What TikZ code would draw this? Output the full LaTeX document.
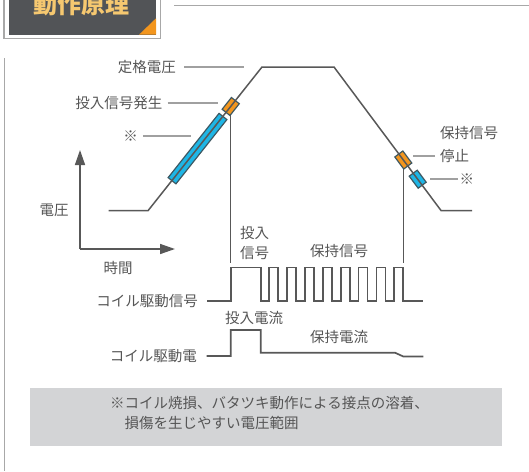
\documentclass[tikz,border=0pt]{standalone}
\usepackage{fontspec}
\setmainfont{Noto Sans CJK JP}
\usetikzlibrary{arrows.meta}
\definecolor{ln}{RGB}{88,88,88}
\definecolor{ld}{RGB}{160,160,160}
\definecolor{tx}{RGB}{85,85,85}
\definecolor{bluef}{RGB}{30,182,230}
\definecolor{orf}{RGB}{243,150,30}
\definecolor{olc}{RGB}{62,88,98}
\definecolor{gbox}{RGB}{211,212,214}
\definecolor{hdr}{RGB}{82,84,87}
\definecolor{hdrtx}{RGB}{246,200,112}
\definecolor{frame}{RGB}{168,168,168}
\begin{document}
\begin{tikzpicture}[x=1pt,y=-1pt,
  lbl/.style={text=tx, font=\fontsize{14.5}{20}\selectfont, inner sep=0pt},
  lead/.style={draw=ld, line width=1.3pt},
  curve/.style={draw=ln, line width=1.5pt},
  sig/.style={draw=ln, line width=1.7pt},
  axis/.style={draw=ln, line width=1.5pt, -{Triangle[length=15pt,width=10pt]}},
  blk/.style={draw=olc, line width=1.2pt, inner sep=0pt, minimum height=10pt},
]
\path[use as bounding box] (0,0) rectangle (529,471);
\clip (0,0) rectangle (529,471);

% header
\fill[hdr] (9,-10) rectangle (156,34.7);
\draw[frame, line width=1.4pt] (4,-10) rectangle (160.3,38.3);
\fill[orf] (139,34.7) -- (156,34.7) -- (156,18.3) -- cycle;
\node[font=\fontsize{24}{24}\selectfont\bfseries, text=hdrtx, inner sep=0pt] (title) at (81.5,5) {動作原理};
\draw[frame, line width=1.5pt] (174,5.5) -- (529,5.5);
\draw[frame, line width=1.5pt] (4.7,58.3) -- (4.7,471);

% voltage curve coordinates
\coordinate (v0) at (108.5,210.7);
\coordinate (v1) at (148,210.7);
\coordinate (v2) at (262,67);
\coordinate (v3) at (334,67);
\coordinate (v4) at (441,210.5);
\coordinate (v5) at (472,210.5);

% vertical markers
\draw[curve] (230.7,106.5) coordinate (oLc) -- (230.7,263) coordinate (oLd);
\draw[curve] (403.3,160) coordinate (oRc) -- (403.3,263) coordinate (oRd);

% blocks
\node[blk, fill=bluef, minimum width=82pt, rotate=51.6] (bL) at (197.5,148.6) {};
\node[blk, fill=orf, minimum width=15pt, rotate=51.6] (oL) at (oLc) {};
\node[blk, fill=orf, minimum width=15pt, rotate=-53.3] (oR) at (oRc) {};
\node[blk, fill=bluef, minimum width=15pt, rotate=-53.3] (bR) at (417.7,179.2) {};

\draw[curve] (v0) -- (v1) -- (v2) -- (v3) -- (v4) -- (v5);

% labels top
\node[lbl, anchor=east] (rated) at (176,67) {定格電圧};
\draw[lead] ([xshift=8pt]rated.east) -- ([xshift=68pt]rated.east);
\node[lbl, anchor=east] (inj) at (162.5,103) {投入信号発生};
\draw[lead] ([xshift=5pt]inj.east) -- ([xshift=55pt]inj.east);
\node[lbl] (star1) at (130.5,136) {※};
\draw[lead] ([xshift=5pt]star1.east) -- ([xshift=53pt]star1.east);

\node[lbl, anchor=west] (hs1) at (440,133.3) {保持信号};
\node[lbl, anchor=west] (hs2) at (440,156) {停止};
\draw[lead] ([xshift=-5pt]hs2.west) -- ([xshift=-27pt]hs2.west);
\node[lbl, anchor=west] (star2) at (459.5,179) {※};
\draw[lead] ([xshift=-2pt]star2.west) -- ([xshift=-30pt]star2.west);

% axes
\coordinate (o) at (80,249);
\draw[axis] (o) -- (80,150);
\draw[axis] (o) -- (175,249);
\node[lbl] (volt) at (54,210.5) {電圧};
\node[lbl] (time) at (118,268) {時間};

% coil drive signal
\node[lbl, anchor=west, align=left] (injsig) at (240,243) {投入\\信号};
\node[lbl] (holdsig) at (339,251.5) {保持信号};
\node[lbl, anchor=east] (coilsig) at (198,301) {コイル駆動信号};
\draw[sig] ([xshift=9pt]coilsig.east) -- (230.7,301) -- (230.7,267.5) -- (261,267.5) -- (261,301)
  \foreach \k in {0,...,7}{ -- ({269.3+17.86*\k},301) -- ({269.3+17.86*\k},267.5) -- ({278.3+17.86*\k},267.5) -- ({278.3+17.86*\k},301) } -- (423.3,301);

% coil drive current
\node[lbl] (injcur) at (254,318.3) {投入電流};
\node[lbl] (holdcur) at (339,337.3) {保持電流};
\node[lbl, anchor=east] (coilcur) at (197,356) {コイル駆動電};
\draw[sig] ([xshift=9.7pt]coilcur.east) -- (230.7,356) -- (230.7,330) -- (260.7,330) -- (260.7,352.7) -- (395,352.7) -- (403.3,356.5) -- (423.3,356.5);

% note box
\fill[gbox] (30,388.3) rectangle (502,446);
\node[lbl, anchor=west, align=left] (note) at (110,412.7) {※コイル焼損、バタツキ動作による接点の溶着、\\　損傷を生じやすい電圧範囲};
\end{tikzpicture}
\end{document}
